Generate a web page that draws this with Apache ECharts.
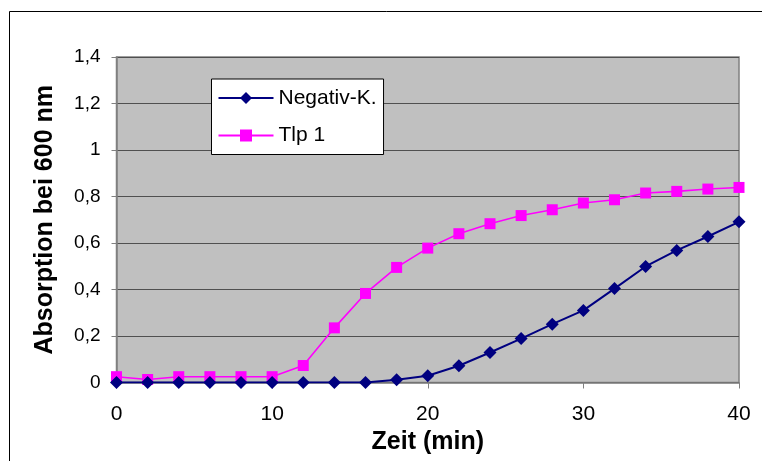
<!DOCTYPE html>
<html><head><meta charset="utf-8">
<script src="https://cdn.jsdelivr.net/npm/echarts@6/dist/echarts.min.js"></script>
<style>html,body{margin:0;padding:0;background:#fff}#c{width:762px;height:461px}</style>
</head><body><div id="c"></div>
<script>
const times = [0,2,4,6,8,10,12,14,16,18,20,22,24,26,28,30,32,34,36,38,40];
const negativK = [0,0,0,0,0,0,0,0,0,0.012,0.029,0.072,0.129,0.189,0.251,0.31,0.404,0.499,0.568,0.628,0.691];
const tlp1 = [0.025,0.013,0.025,0.025,0.025,0.025,0.073,0.235,0.383,0.495,0.578,0.64,0.683,0.718,0.743,0.772,0.786,0.815,0.822,0.832,0.839];
const seriesNames = ['Negativ-K.','Tlp 1'];
const xTitle = 'Zeit (min)';
const yTitle = 'Absorption bei 600 nm';

const font = 'Liberation Sans, Arial, sans-serif';
const chart = echarts.init(document.getElementById('c'), null, {renderer:'canvas'});
chart.setOption({
  animation:false,
  backgroundColor:'#fff',
  graphic:[{type:'rect',shape:{x:9.5,y:11.5,width:800,height:500},style:{fill:'none',stroke:'#000',lineWidth:1},z:-10}],
  grid:{left:116.5,top:57,right:23,bottom:78.5,show:true,backgroundColor:'#c0c0c0',borderColor:'#808080',borderWidth:1.5},
  legend:{
    orient:'vertical',left:211.5,top:79,
    backgroundColor:'#fff',borderColor:'#000',borderWidth:1,borderRadius:0,
    padding:[8.5,7,8.5,6],itemGap:16.5,itemWidth:55,itemHeight:15,
    textStyle:{fontFamily:font,fontSize:21,color:'#000'},
    data:seriesNames
  },
  xAxis:{type:'value',min:0,max:40,interval:10,
    name:xTitle,nameLocation:'middle',nameGap:45,
    nameTextStyle:{fontFamily:font,fontSize:25,fontWeight:'bold',color:'#000'},
    axisLine:{show:true,lineStyle:{color:'#808080',width:1.5}},
    axisTick:{show:true,length:6,lineStyle:{color:'#808080'}},
    axisLabel:{fontFamily:font,fontSize:21,color:'#000',margin:21},
    splitLine:{show:false}},
  yAxis:{type:'value',min:0,max:1.4,interval:0.2,
    name:yTitle,nameLocation:'middle',nameGap:59,nameRotate:90,
    nameTextStyle:{fontFamily:font,fontSize:25,fontWeight:'bold',color:'#000'},
    axisLine:{show:true,lineStyle:{color:'#808080',width:1.5}},
    axisTick:{show:true,length:5,lineStyle:{color:'#808080'}},
    axisLabel:{fontFamily:font,fontSize:19,color:'#000',margin:16,
      formatter:v=>String(Math.round(v*10)/10).replace('.',',')},
    splitLine:{show:true,lineStyle:{color:'#505050',width:1.2}}},
  series:[
    {name:seriesNames[0],type:'line',data:times.map((t,i)=>[t,negativK[i]]),
     symbol:'diamond',symbolSize:13,color:'#000080',
     lineStyle:{color:'#000080',width:2},itemStyle:{color:'#000080'},z:3},
    {name:seriesNames[1],type:'line',data:times.map((t,i)=>[t,tlp1[i]]),
     symbol:'rect',symbolSize:11,color:'#ff00ff',
     lineStyle:{color:'#ff00ff',width:1.6},itemStyle:{color:'#ff00ff'},z:2}
  ]
});
</script></body></html>
